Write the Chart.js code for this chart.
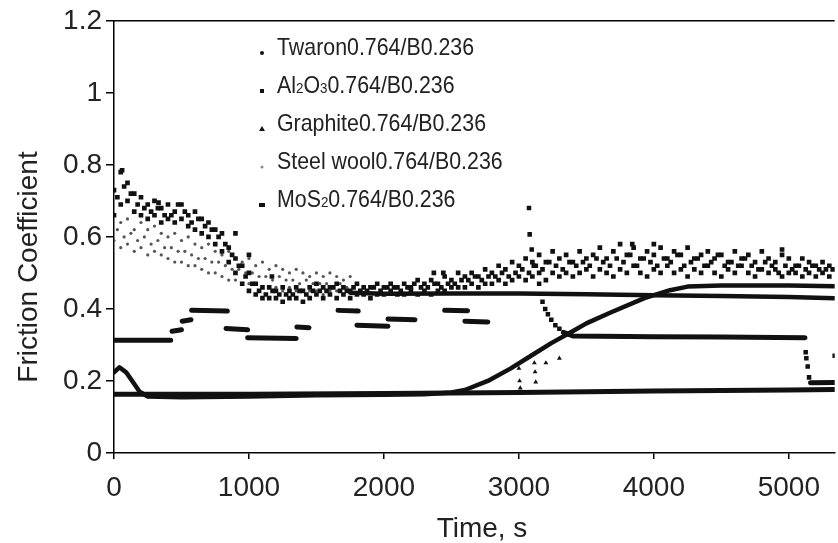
<!DOCTYPE html>
<html lang="en">
<head>
<meta charset="UTF-8">
<title>Friction Coefficient vs Time</title>
<script src="https://cdn.jsdelivr.net/npm/chart.js"></script>
<style>
  body { margin: 0; background: #fff; }
  #chart { display: block; }
</style>
</head>
<body>
<canvas id="chart" width="838" height="543"></canvas>
<script>
  // sampling grids (s)
  const tA = [];
  for (let t = 0; t <= 5300; t += 50) tA.push(t);
  const tA3 = tA.map(t => t + 25);
  const tB = [];
  for (let t = 0; t <= 1750; t += 50) tB.push(t);
  const tB3 = tB.map(t => t + 25);

  // MoS2 - noisy band, upper / lower / middle readings
  const a1 = [0.73, 0.78, 0.75, 0.72, 0.71, 0.69, 0.70, 0.68, 0.69, 0.67, 0.69, 0.66, 0.67, 0.65, 0.64, 0.62, 0.61, 0.57, 0.54, 0.52,
    0.50, 0.47, 0.46, 0.46, 0.45, 0.46, 0.45, 0.46, 0.45, 0.46, 0.47, 0.46, 0.46, 0.47, 0.46, 0.45, 0.47, 0.46, 0.46, 0.47,
    0.46, 0.47, 0.46, 0.47, 0.46, 0.48, 0.47, 0.48, 0.47, 0.49, 0.48, 0.50, 0.49, 0.50, 0.49, 0.51, 0.50, 0.52, 0.51, 0.53,
    0.52, 0.54, 0.53, 0.55, 0.53, 0.56, 0.54, 0.55, 0.53, 0.56, 0.54, 0.55, 0.57, 0.54, 0.56, 0.58, 0.55, 0.57, 0.54, 0.56,
    0.55, 0.57, 0.54, 0.56, 0.55, 0.57, 0.54, 0.55, 0.56, 0.54, 0.55, 0.53, 0.56, 0.54, 0.55, 0.53, 0.56, 0.54, 0.53, 0.55,
    0.54, 0.52, 0.54, 0.53, 0.52, 0.53, 0.52];
  const a2 = [0.66, 0.69, 0.70, 0.67, 0.66, 0.65, 0.66, 0.64, 0.65, 0.64, 0.65, 0.63, 0.62, 0.61, 0.60, 0.58, 0.56, 0.53, 0.50, 0.47,
    0.45, 0.44, 0.43, 0.43, 0.43, 0.42, 0.43, 0.43, 0.42, 0.43, 0.44, 0.43, 0.44, 0.43, 0.44, 0.43, 0.44, 0.44, 0.43, 0.44,
    0.44, 0.45, 0.44, 0.44, 0.45, 0.44, 0.45, 0.44, 0.45, 0.45, 0.46, 0.46, 0.46, 0.47, 0.46, 0.47, 0.47, 0.48, 0.47, 0.48,
    0.49, 0.48, 0.49, 0.50, 0.48, 0.50, 0.49, 0.50, 0.49, 0.50, 0.51, 0.49, 0.51, 0.50, 0.49, 0.51, 0.50, 0.52, 0.50, 0.49,
    0.51, 0.50, 0.52, 0.50, 0.51, 0.49, 0.51, 0.50, 0.52, 0.50, 0.49, 0.51, 0.50, 0.52, 0.50, 0.49, 0.51, 0.50, 0.51, 0.49,
    0.50, 0.50, 0.49, 0.50, 0.49, 0.50, 0.49];
  const a3 = [0.71, 0.74, 0.72, 0.69, 0.68, 0.67, 0.68, 0.66, 0.66, 0.69, 0.67, 0.64, 0.65, 0.63, 0.62, 0.60, 0.58, 0.55, 0.52, 0.49,
    0.47, 0.45, 0.44, 0.45, 0.44, 0.44, 0.44, 0.45, 0.44, 0.45, 0.45, 0.45, 0.46, 0.45, 0.45, 0.46, 0.45, 0.45, 0.46, 0.45,
    0.46, 0.46, 0.45, 0.46, 0.47, 0.46, 0.46, 0.47, 0.46, 0.47, 0.47, 0.48, 0.48, 0.49, 0.48, 0.49, 0.49, 0.50, 0.49, 0.50,
    0.51, 0.50, 0.52, 0.51, 0.53, 0.52, 0.51, 0.53, 0.52, 0.53, 0.52, 0.54, 0.53, 0.52, 0.54, 0.53, 0.55, 0.52, 0.54, 0.53,
    0.52, 0.54, 0.53, 0.55, 0.52, 0.53, 0.54, 0.52, 0.53, 0.55, 0.52, 0.53, 0.52, 0.54, 0.52, 0.51, 0.53, 0.52, 0.50, 0.52,
    0.51, 0.52, 0.51, 0.52, 0.51, 0.51, 0.51];
  const aOutT = [60, 330, 900, 1000, 1170, 2370, 2440, 3840, 4000, 4950];
  const aOutV = [0.785, 0.695, 0.61, 0.55, 0.49, 0.50, 0.50, 0.58, 0.58, 0.565];

  // Steel wool - grey cloud, then a flat trace
  const b1 = [0.66, 0.64, 0.65, 0.62, 0.64, 0.62, 0.63, 0.61, 0.60, 0.61, 0.59, 0.60, 0.58, 0.57, 0.58, 0.56, 0.55, 0.56,
    0.54, 0.53, 0.54, 0.52, 0.53, 0.51, 0.52, 0.51, 0.50, 0.51, 0.50, 0.49, 0.50, 0.49, 0.50, 0.49, 0.48, 0.49];
  const b2 = [0.59, 0.57, 0.58, 0.56, 0.57, 0.55, 0.56, 0.55, 0.54, 0.53, 0.53, 0.52, 0.52, 0.51, 0.50, 0.50, 0.49, 0.48,
    0.48, 0.47, 0.47, 0.47, 0.46, 0.46, 0.46, 0.45, 0.46, 0.45, 0.45, 0.45, 0.45, 0.44, 0.45, 0.45, 0.44, 0.45];
  const b3 = [0.62, 0.60, 0.61, 0.59, 0.60, 0.58, 0.59, 0.57, 0.57, 0.56, 0.56, 0.55, 0.54, 0.54, 0.53, 0.53, 0.52, 0.51,
    0.51, 0.50, 0.50, 0.49, 0.49, 0.48, 0.49, 0.48, 0.48, 0.47, 0.48, 0.47, 0.47, 0.47, 0.46, 0.47, 0.46, 0.46];
  const bTailT = [1750, 2000, 2500, 3000, 3500, 4000, 4500, 5000, 5340];
  const bTailV = [0.445, 0.442, 0.443, 0.443, 0.441, 0.438, 0.436, 0.433, 0.43];

  // Al2O3 - stepped trace (null = break)
  const cT = [0, 420, 421, 430, 500, 501, 505, 570, 571, 575, 840, 841, 830, 990, 991, 990, 1350, 1351, 1355, 1445, 1446,
    1660, 1810, 1811, 1800, 2030, 2031, 2030, 2230, 2231, 2450, 2620, 2621, 2600, 2770, 2771,
    3330, 3400, 4000, 4500, 5120, 5121, 5160, 5340];
  const cV = [0.313, 0.313, null, 0.338, 0.342, null, 0.366, 0.370, null, 0.396, 0.394, null, 0.346, 0.342, null, 0.320, 0.318, null, 0.350, 0.348, null,
    0.396, 0.394, null, 0.355, 0.352, null, 0.372, 0.370, null, 0.396, 0.395, null, 0.366, 0.364, null,
    0.335, 0.325, 0.323, 0.322, 0.320, null, 0.195, 0.196];
  const cSpikeT = [3075, 3080, 3095, 3110, 3150, 3175, 3195, 3215, 3240, 3270, 3300, 5125, 5130, 5140, 5150, 5340];
  const cSpikeV = [0.68, 0.607, 0.565, 0.52, 0.47, 0.42, 0.40, 0.385, 0.37, 0.355, 0.345, 0.28, 0.263, 0.24, 0.21, 0.27];

  // Twaron - early hump, then rise after 2500 s
  const dT = [0, 40, 90, 140, 190, 250, 500, 1000, 1500, 2000, 2300, 2500, 2600, 2770, 2940, 3090, 3240, 3385, 3500, 3680,
    3930, 4120, 4250, 4500, 5000, 5340];
  const dV = [0.224, 0.238, 0.224, 0.197, 0.17, 0.157, 0.155, 0.157, 0.16, 0.162, 0.163, 0.168, 0.175, 0.20, 0.235, 0.27,
    0.305, 0.335, 0.36, 0.39, 0.43, 0.452, 0.462, 0.465, 0.465, 0.463];

  // Graphite - flat trace plus a few stray points
  const eT = [0, 1000, 2000, 3000, 4000, 5000, 5340];
  const eV = [0.163, 0.163, 0.165, 0.168, 0.172, 0.175, 0.176];
  const gT = [3000, 3005, 3010, 3115, 3120, 3125, 3200, 3300];
  const gV = [0.235, 0.20, 0.18, 0.25, 0.225, 0.197, 0.25, 0.263];

  const yTicks = [0, 0.2, 0.4, 0.6, 0.8, 1, 1.2];
  const xTicks = [0, 1000, 2000, 3000, 4000, 5000];

  const legendItems = [
    { parts: [['Twaron0.764/B0.236']], marker: 'dot' },
    { parts: [['Al'], ['2', 1], ['O'], ['3', 1], ['0.764/B0.236']], marker: 'square' },
    { parts: [['Graphite0.764/B0.236']], marker: 'triangle' },
    { parts: [['Steel wool0.764/B0.236']], marker: 'grey' },
    { parts: [['MoS'], ['2', 1], ['0.764/B0.236']], marker: 'rect' }
  ];

  const pts = (ts, vs) => ts.map((t, i) => ({ x: t, y: vs[i] }));
  const FONT = '"Liberation Sans", Arial, sans-serif';

  const scatterSet = (data, style, r, color) => ({
    data, showLine: false, pointStyle: style, pointRadius: r, pointHoverRadius: r,
    backgroundColor: color, borderColor: color, borderWidth: 0
  });
  const lineSet = (data, w) => ({
    data, showLine: true, pointRadius: 0, borderColor: '#111', borderWidth: w,
    tension: 0, spanGaps: false, borderCapStyle: 'round', borderJoinStyle: 'round'
  });

  const decorations = {
    id: 'decorations',
    afterDraw(chart) {
      const { ctx, chartArea: a } = chart;
      ctx.save();
      ctx.strokeStyle = '#000';
      ctx.lineWidth = 1.5;
      ctx.beginPath();
      ctx.moveTo(a.left, a.top);
      ctx.lineTo(a.right, a.top);
      ctx.stroke();

      // axis titles
      ctx.fillStyle = '#222';
      ctx.font = '28px ' + FONT;
      ctx.textAlign = 'center';
      ctx.textBaseline = 'alphabetic';
      ctx.fillText('Time, s', 482, 537);
      ctx.save();
      ctx.translate(37, 267);
      ctx.rotate(-Math.PI / 2);
      ctx.fillText('Friction Coefficient', 0, 0);
      ctx.restore();

      // legend
      legendItems.forEach((item, i) => {
        const base = 55 + 38 * i;
        const mx = 262, my = base - 2;
        ctx.fillStyle = '#111';
        ctx.beginPath();
        if (item.marker === 'dot') ctx.arc(mx, my, 2, 0, Math.PI * 2);
        else if (item.marker === 'square') ctx.rect(mx - 2, my - 2, 4, 4);
        else if (item.marker === 'triangle') { ctx.moveTo(mx, my - 3); ctx.lineTo(mx + 3, my + 2); ctx.lineTo(mx - 3, my + 2); ctx.closePath(); }
        else if (item.marker === 'grey') { ctx.fillStyle = '#888'; ctx.arc(mx, my, 1.5, 0, Math.PI * 2); }
        else ctx.rect(mx - 3, my - 2, 6, 4);
        ctx.fill();

        ctx.save();
        ctx.translate(277, base);
        ctx.scale(0.89, 1);
        ctx.fillStyle = '#222';
        ctx.textAlign = 'left';
        let x = 0;
        item.parts.forEach(([txt, sub]) => {
          ctx.font = (sub ? '15px ' : '24px ') + FONT;
          ctx.fillText(txt, x, 0);
          x += ctx.measureText(txt).width;
        });
        ctx.restore();
      });
      ctx.restore();
    }
  };

  new Chart(document.getElementById('chart'), {
    type: 'scatter',
    data: {
      datasets: [
        lineSet(pts(dT, dV), 4.5),
        lineSet(pts(eT, eV), 5),
        lineSet(pts(cT, cV), 5),
        scatterSet(pts(cSpikeT, cSpikeV), 'rect', 3.2, '#111'),
        scatterSet(pts(gT, gV), 'triangle', 2.8, '#111'),
        lineSet(pts(bTailT, bTailV), 4.5),
        scatterSet(pts(tA, a1), 'rect', 3.3, '#111'),
        scatterSet(pts(tA, a2), 'rect', 3.3, '#111'),
        scatterSet(pts(tA3, a3), 'rect', 3.3, '#111'),
        scatterSet(pts(aOutT, aOutV), 'rect', 3.3, '#111'),
        scatterSet(pts(tB, b1), 'circle', 1.6, '#555'),
        scatterSet(pts(tB, b2), 'circle', 1.6, '#555'),
        scatterSet(pts(tB3, b3), 'circle', 1.6, '#555')
      ]
    },
    options: {
      responsive: false,
      devicePixelRatio: 1,
      animation: false,
      layout: { padding: { top: 20, left: 0, right: 0, bottom: 0 } },
      plugins: { legend: { display: false }, tooltip: { enabled: false } },
      scales: {
        x: {
          type: 'linear', min: 0, max: 5340,
          afterFit: s => { s.height = 90; },
          afterBuildTicks: s => { s.ticks = xTicks.map(v => ({ value: v })); },
          ticks: { color: '#222', padding: 12, font: { family: FONT, size: 28 }, maxRotation: 0, callback: v => String(v) },
          grid: { drawOnChartArea: false, color: '#000', lineWidth: 1.5, tickLength: 6 },
          border: { color: '#000', width: 1.5 }
        },
        y: {
          type: 'linear', min: 0, max: 1.2,
          afterFit: s => { s.width = 114; },
          afterBuildTicks: s => { s.ticks = yTicks.map(v => ({ value: v })); },
          ticks: { color: '#222', padding: 4, font: { family: FONT, size: 28 }, callback: v => String(Math.round(v * 10) / 10) },
          grid: { drawOnChartArea: false, color: '#000', lineWidth: 1.5, tickLength: 8 },
          border: { color: '#000', width: 1.5 }
        }
      }
    },
    plugins: [decorations]
  });
</script>
</body>
</html>
